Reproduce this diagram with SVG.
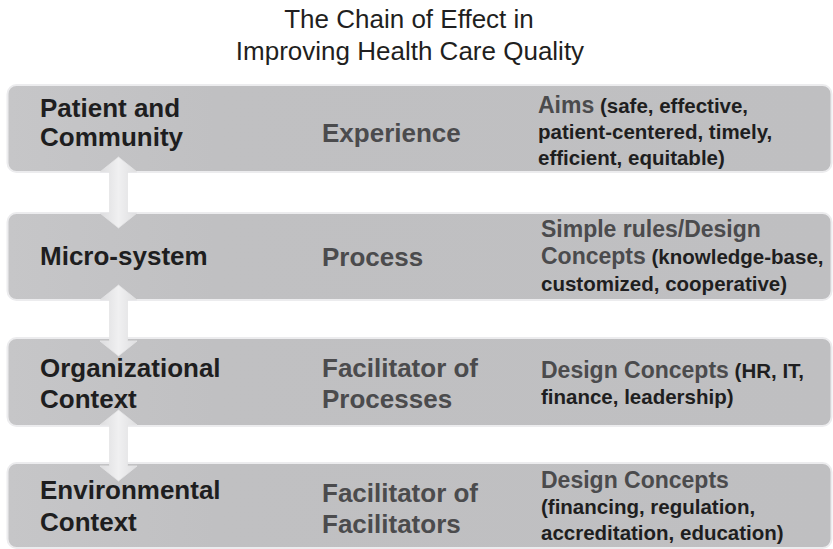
<svg xmlns="http://www.w3.org/2000/svg" width="833" height="549" viewBox="0 0 833 549">
  <defs>
    <linearGradient id="barFill" x1="0" y1="0" x2="1" y2="0">
      <stop offset="0" stop-color="#c6c6c8"/>
      <stop offset="0.25" stop-color="#c0c0c2"/>
      <stop offset="1" stop-color="#bfbfc1"/>
    </linearGradient>
    <linearGradient id="arrowFill" x1="0" y1="0" x2="1" y2="0">
      <stop offset="0" stop-color="#dcdcde"/>
      <stop offset="0.5" stop-color="#f0f0f1"/>
      <stop offset="1" stop-color="#dedee0"/>
    </linearGradient>
    <!-- double-headed vertical arrow, origin at the top tip -->
    <path id="dblArrow" d="M0,0 L18.5,15 L9,15 L9,56 L18.5,56 L0,71 L-18.5,56 L-9,56 L-9,15 L-18.5,15 Z"/>
  </defs>
  <style>
    .bar { fill: url(#barFill); stroke: #ececee; stroke-width: 2; }
    .arrow { fill: url(#arrowFill); stroke: #e4e4e6; stroke-width: 0.8; }
    text { font-family: "Liberation Sans", Arial, Helvetica, sans-serif; }
    .title { font-size: 26px; fill: #1f1f21; text-anchor: middle; }
    .level { font-size: 26px; font-weight: bold; fill: #1e1e20; }
    .focus { font-size: 26px; font-weight: bold; fill: #4b4b4d; }
    .detail { font-size: 20.5px; font-weight: bold; fill: #1e1e20; }
    .key { font-size: 23px; fill: #4b4b4d; }
  </style>

  <rect width="833" height="549" fill="#ffffff"/>

  <g id="title">
    <text class="title" x="409" y="28">The Chain of Effect in</text>
    <text class="title" x="410" y="60">Improving Health Care Quality</text>
  </g>

  <g id="patient-community">
    <rect class="bar" x="7.5" y="85" width="824" height="87" rx="9"/>
    <text class="level" x="40" y="117">Patient and</text>
    <text class="level" x="40" y="146">Community</text>
    <text class="focus" x="322" y="142">Experience</text>
    <text class="detail" x="538" y="113"><tspan class="key">Aims</tspan> (safe, effective,</text>
    <text class="detail" x="538" y="139">patient-centered, timely,</text>
    <text class="detail" x="538" y="165">efficient, equitable)</text>
  </g>

  <g id="micro-system">
    <rect class="bar" x="7.5" y="213" width="824" height="87" rx="9"/>
    <text class="level" x="40" y="265">Micro-system</text>
    <text class="focus" x="322" y="266">Process</text>
    <text class="key" x="541" y="237" font-weight="bold">Simple rules/Design</text>
    <text class="detail" x="541" y="264"><tspan class="key">Concepts</tspan> (knowledge-base,</text>
    <text class="detail" x="541" y="291">customized, cooperative)</text>
  </g>

  <g id="organizational-context">
    <rect class="bar" x="7.5" y="338" width="824" height="88" rx="9"/>
    <text class="level" x="40" y="377">Organizational</text>
    <text class="level" x="40" y="408">Context</text>
    <text class="focus" x="322" y="377">Facilitator of</text>
    <text class="focus" x="322" y="408">Processes</text>
    <text class="detail" x="541" y="378"><tspan class="key">Design Concepts</tspan> (HR, IT,</text>
    <text class="detail" x="541" y="404">finance, leadership)</text>
  </g>

  <g id="environmental-context">
    <rect class="bar" x="7.5" y="463" width="824" height="85" rx="9"/>
    <text class="level" x="40" y="499">Environmental</text>
    <text class="level" x="40" y="531">Context</text>
    <text class="focus" x="322" y="502">Facilitator of</text>
    <text class="focus" x="322" y="533">Facilitators</text>
    <text class="key" x="541" y="488" font-weight="bold">Design Concepts</text>
    <text class="detail" x="541" y="514">(financing, regulation,</text>
    <text class="detail" x="541" y="540">accreditation, education)</text>
  </g>

  <g id="connectors">
    <use class="arrow" href="#dblArrow" x="118.5" y="157"/>
    <use class="arrow" href="#dblArrow" x="118.5" y="285"/>
    <use class="arrow" href="#dblArrow" x="118.5" y="410"/>
  </g>
</svg>
